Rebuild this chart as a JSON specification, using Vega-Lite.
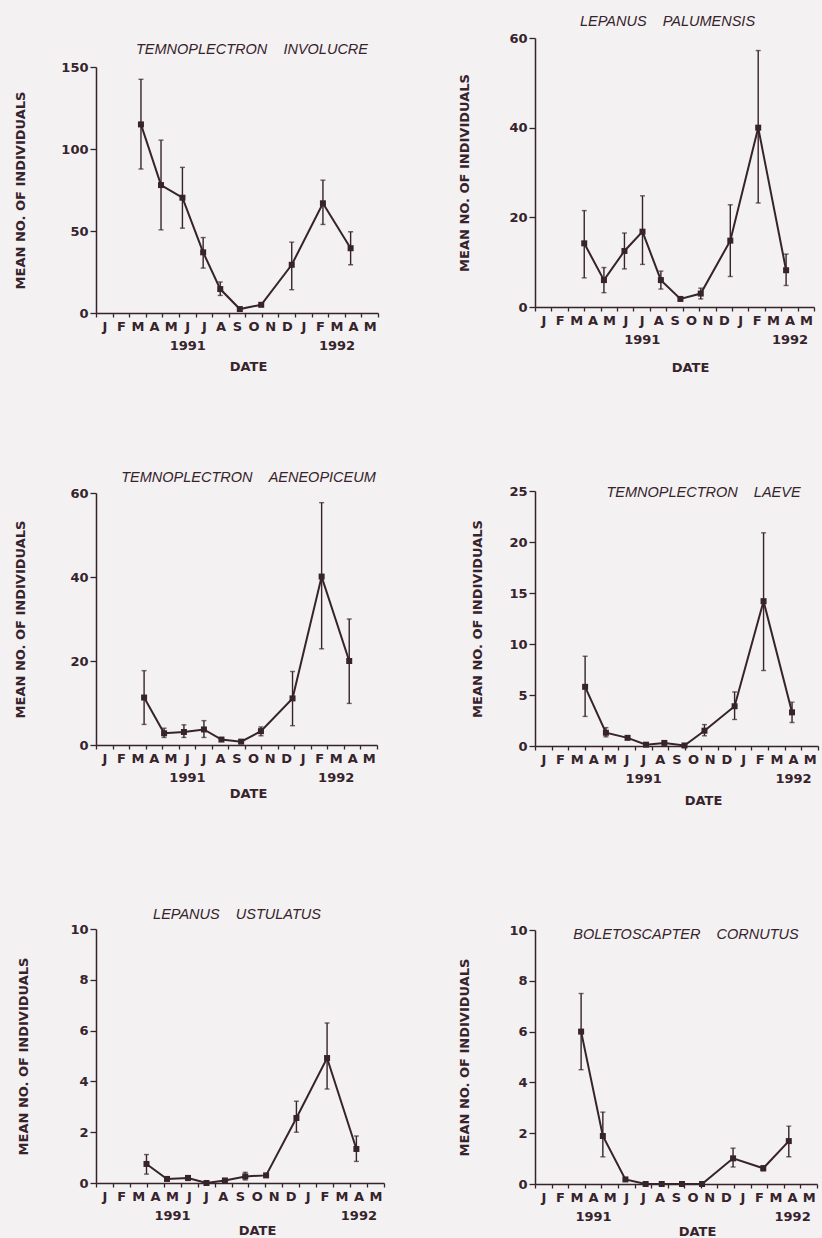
{
 "$schema": "https://vega.github.io/schema/vega-lite/v6.json",
 "background": "#f3f1f2",
 "padding": {"left": 14, "top": 14, "right": 0, "bottom": 0},
 "data": {"values": [
  {"sp":1,"m":2.71,"mean":115,"lo":87.8,"hi":142.5},
  {"sp":1,"m":3.92,"mean":78,"lo":50.7,"hi":105.4},
  {"sp":1,"m":5.21,"mean":70.3,"lo":51.7,"hi":88.8},
  {"sp":1,"m":6.46,"mean":37,"lo":27.4,"hi":46},
  {"sp":1,"m":7.49,"mean":14.6,"lo":10.7,"hi":18.9},
  {"sp":1,"m":8.67,"mean":2.4,"lo":null,"hi":null},
  {"sp":1,"m":9.96,"mean":5,"lo":null,"hi":null},
  {"sp":1,"m":11.8,"mean":29.4,"lo":14.2,"hi":43.2},
  {"sp":1,"m":13.68,"mean":66.9,"lo":54,"hi":81},
  {"sp":1,"m":15.35,"mean":39.5,"lo":29.4,"hi":49.5},
  {"sp":2,"m":3.0,"mean":14.2,"lo":6.5,"hi":21.5},
  {"sp":2,"m":4.2,"mean":6,"lo":3.2,"hi":8.8},
  {"sp":2,"m":5.45,"mean":12.5,"lo":8.5,"hi":16.5},
  {"sp":2,"m":6.55,"mean":16.8,"lo":9.5,"hi":24.8},
  {"sp":2,"m":7.67,"mean":6,"lo":4,"hi":8},
  {"sp":2,"m":8.86,"mean":1.8,"lo":null,"hi":null},
  {"sp":2,"m":10.1,"mean":3,"lo":1.8,"hi":4.2},
  {"sp":2,"m":11.9,"mean":14.8,"lo":6.8,"hi":22.8},
  {"sp":2,"m":13.6,"mean":40,"lo":23.2,"hi":57.2},
  {"sp":2,"m":15.3,"mean":8.2,"lo":4.8,"hi":11.8},
  {"sp":3,"m":2.91,"mean":11.3,"lo":4.9,"hi":17.7},
  {"sp":3,"m":4.12,"mean":2.8,"lo":1.8,"hi":4.0},
  {"sp":3,"m":5.32,"mean":3.1,"lo":1.8,"hi":4.8},
  {"sp":3,"m":6.53,"mean":3.7,"lo":1.8,"hi":5.8},
  {"sp":3,"m":7.59,"mean":1.3,"lo":null,"hi":null},
  {"sp":3,"m":8.78,"mean":0.8,"lo":null,"hi":null},
  {"sp":3,"m":9.98,"mean":3.3,"lo":2.2,"hi":4.3},
  {"sp":3,"m":11.89,"mean":11.1,"lo":4.6,"hi":17.5},
  {"sp":3,"m":13.65,"mean":40.1,"lo":22.9,"hi":57.7},
  {"sp":3,"m":15.32,"mean":20,"lo":9.9,"hi":30},
  {"sp":4,"m":3.01,"mean":5.8,"lo":2.9,"hi":8.8},
  {"sp":4,"m":4.26,"mean":1.3,"lo":0.9,"hi":1.8},
  {"sp":4,"m":5.56,"mean":0.8,"lo":null,"hi":null},
  {"sp":4,"m":6.67,"mean":0.13,"lo":null,"hi":null},
  {"sp":4,"m":7.77,"mean":0.3,"lo":null,"hi":null},
  {"sp":4,"m":8.98,"mean":0.05,"lo":null,"hi":null},
  {"sp":4,"m":10.18,"mean":1.5,"lo":1.0,"hi":2.1},
  {"sp":4,"m":11.99,"mean":3.9,"lo":2.6,"hi":5.3},
  {"sp":4,"m":13.73,"mean":14.2,"lo":7.4,"hi":20.9},
  {"sp":4,"m":15.44,"mean":3.3,"lo":2.3,"hi":4.3},
  {"sp":5,"m":2.98,"mean":0.75,"lo":0.35,"hi":1.12},
  {"sp":5,"m":4.19,"mean":0.16,"lo":0.1,"hi":0.22},
  {"sp":5,"m":5.43,"mean":0.2,"lo":0.1,"hi":0.28},
  {"sp":5,"m":6.52,"mean":0.0,"lo":null,"hi":null},
  {"sp":5,"m":7.61,"mean":0.1,"lo":0.05,"hi":0.15},
  {"sp":5,"m":8.81,"mean":0.26,"lo":0.12,"hi":0.42},
  {"sp":5,"m":10.04,"mean":0.3,"lo":null,"hi":null},
  {"sp":5,"m":11.83,"mean":2.56,"lo":2.0,"hi":3.22},
  {"sp":5,"m":13.64,"mean":4.92,"lo":3.7,"hi":6.3},
  {"sp":5,"m":15.37,"mean":1.34,"lo":0.85,"hi":1.85},
  {"sp":6,"m":2.78,"mean":6.0,"lo":4.5,"hi":7.5},
  {"sp":6,"m":4.09,"mean":1.89,"lo":1.07,"hi":2.83},
  {"sp":6,"m":5.45,"mean":0.18,"lo":null,"hi":null},
  {"sp":6,"m":6.67,"mean":0,"lo":null,"hi":null},
  {"sp":6,"m":7.64,"mean":0,"lo":null,"hi":null},
  {"sp":6,"m":8.86,"mean":0,"lo":null,"hi":null},
  {"sp":6,"m":10.07,"mean":0,"lo":null,"hi":null},
  {"sp":6,"m":11.94,"mean":1.01,"lo":0.67,"hi":1.41},
  {"sp":6,"m":13.76,"mean":0.62,"lo":0.52,"hi":0.72},
  {"sp":6,"m":15.3,"mean":1.69,"lo":1.07,"hi":2.28}
 ]},
 "spacing": 65,
 "hconcat": [
  {"spacing": 107, "vconcat": [
   {"spacing": 97, "vconcat": [
    {"spacing": 0, "vconcat": [
     {"width": 10, "height": 4, "data": {"values": []}, "mark": "text", "encoding": {"text": {"value": ""}}},
     {"width": 282, "height": 246,
      "title": {"text": "TEMNOPLECTRON\u00a0\u00a0\u00a0\u00a0INVOLUCRE", "offset": 3.5, "dx": 15},
      "transform": [{"filter": "datum.sp == 1"}],
      "encoding": {"x": {"field": "m", "type": "quantitative", "title": "DATE", "scale": {"domain": [0,17], "nice": false, "zero": false},
        "axis": {"values": [0,1,2,3,4,5,6,7,8,9,10,11,12,13,14,15,16,17], "titlePadding": 8, "titleX": 152,
          "labelExpr": "datum.value == 5 ? ['J','1991'] : datum.value == 14 ? ['M','1992'] : ['J','F','M','A','M','J','J','A','S','O','N','D','J','F','M','A','M',''][datum.value]"}}},
      "layer": [
       {"transform": [{"filter": "isValid(datum.lo)"}], "mark": {"type": "rule"},
        "encoding": {"y": {"field": "lo", "type": "quantitative", "title": "MEAN NO. OF INDIVIDUALS", "scale": {"domain": [0,150], "nice": false}, "axis": {"values": [0,50,100,150], "titlePadding": 33}}, "y2": {"field": "hi"}}},
       {"transform": [{"filter": "isValid(datum.lo)"}, {"fold": ["lo","hi"], "as": ["k","v"]}], "mark": {"type": "tick", "orient": "horizontal"},
        "encoding": {"y": {"field": "v", "type": "quantitative", "title": "MEAN NO. OF INDIVIDUALS", "scale": {"domain": [0,150], "nice": false}, "axis": {"values": [0,50,100,150], "titlePadding": 33}}}},
       {"mark": {"type": "line"},
        "encoding": {"y": {"field": "mean", "type": "quantitative", "title": "MEAN NO. OF INDIVIDUALS", "scale": {"domain": [0,150], "nice": false}, "axis": {"values": [0,50,100,150], "titlePadding": 33}}}},
       {"mark": {"type": "square"},
        "encoding": {"y": {"field": "mean", "type": "quantitative", "title": "MEAN NO. OF INDIVIDUALS", "scale": {"domain": [0,150], "nice": false}, "axis": {"values": [0,50,100,150], "titlePadding": 33}}}}
      ]}
    ]},
    {"width": 281, "height": 252,
     "title": {"text": "TEMNOPLECTRON\u00a0\u00a0\u00a0\u00a0AENEOPICEUM", "offset": 1.5, "dx": 12},
     "transform": [{"filter": "datum.sp == 3"}],
     "encoding": {"x": {"field": "m", "type": "quantitative", "title": "DATE", "scale": {"domain": [0,17], "nice": false, "zero": false},
       "axis": {"values": [0,1,2,3,4,5,6,7,8,9,10,11,12,13,14,15,16,17], "titlePadding": 3, "titleX": 152,
         "labelExpr": "datum.value == 5 ? ['J','1991'] : datum.value == 14 ? ['M','1992'] : ['J','F','M','A','M','J','J','A','S','O','N','D','J','F','M','A','M',''][datum.value]"}}},
     "layer": [
      {"transform": [{"filter": "isValid(datum.lo)"}], "mark": {"type": "rule"},
       "encoding": {"y": {"field": "lo", "type": "quantitative", "title": "MEAN NO. OF INDIVIDUALS", "scale": {"domain": [0,60], "nice": false}, "axis": {"values": [0,20,40,60], "titlePadding": 42}}, "y2": {"field": "hi"}}},
      {"transform": [{"filter": "isValid(datum.lo)"}, {"fold": ["lo","hi"], "as": ["k","v"]}], "mark": {"type": "tick", "orient": "horizontal"},
       "encoding": {"y": {"field": "v", "type": "quantitative", "title": "MEAN NO. OF INDIVIDUALS", "scale": {"domain": [0,60], "nice": false}, "axis": {"values": [0,20,40,60], "titlePadding": 42}}}},
      {"mark": {"type": "line"},
       "encoding": {"y": {"field": "mean", "type": "quantitative", "title": "MEAN NO. OF INDIVIDUALS", "scale": {"domain": [0,60], "nice": false}, "axis": {"values": [0,20,40,60], "titlePadding": 42}}}},
      {"mark": {"type": "square"},
       "encoding": {"y": {"field": "mean", "type": "quantitative", "title": "MEAN NO. OF INDIVIDUALS", "scale": {"domain": [0,60], "nice": false}, "axis": {"values": [0,20,40,60], "titlePadding": 42}}}}
     ]}
   ]},
   {"width": 288, "height": 254,
    "title": {"text": "LEPANUS\u00a0\u00a0\u00a0\u00a0USTULATUS", "offset": 0.5, "dx": -3},
    "transform": [{"filter": "datum.sp == 5"}],
    "encoding": {"x": {"field": "m", "type": "quantitative", "title": "DATE", "scale": {"domain": [0,17], "nice": false, "zero": false},
      "axis": {"values": [0,1,2,3,4,5,6,7,8,9,10,11,12,13,14,15,16,17], "titlePadding": 2, "titleX": 161,
        "labelExpr": "datum.value == 4 ? ['M','1991'] : datum.value == 15 ? ['A','1992'] : ['J','F','M','A','M','J','J','A','S','O','N','D','J','F','M','A','M',''][datum.value]"}}},
    "layer": [
     {"transform": [{"filter": "isValid(datum.lo)"}], "mark": {"type": "rule"},
      "encoding": {"y": {"field": "lo", "type": "quantitative", "title": "MEAN NO. OF INDIVIDUALS", "scale": {"domain": [0,10], "nice": false}, "axis": {"values": [0,2,4,6,8,10], "titlePadding": 39}}, "y2": {"field": "hi"}}},
     {"transform": [{"filter": "isValid(datum.lo)"}, {"fold": ["lo","hi"], "as": ["k","v"]}], "mark": {"type": "tick", "orient": "horizontal"},
      "encoding": {"y": {"field": "v", "type": "quantitative", "title": "MEAN NO. OF INDIVIDUALS", "scale": {"domain": [0,10], "nice": false}, "axis": {"values": [0,2,4,6,8,10], "titlePadding": 39}}}},
     {"mark": {"type": "line"},
      "encoding": {"y": {"field": "mean", "type": "quantitative", "title": "MEAN NO. OF INDIVIDUALS", "scale": {"domain": [0,10], "nice": false}, "axis": {"values": [0,2,4,6,8,10], "titlePadding": 39}}}},
     {"mark": {"type": "square"},
      "encoding": {"y": {"field": "mean", "type": "quantitative", "title": "MEAN NO. OF INDIVIDUALS", "scale": {"domain": [0,10], "nice": false}, "axis": {"values": [0,2,4,6,8,10], "titlePadding": 39}}}}
    ]}
  ]},
  {"spacing": 117, "vconcat": [
   {"spacing": 111, "vconcat": [
    {"width": 279, "height": 269,
     "title": {"text": "LEPANUS\u00a0\u00a0\u00a0\u00a0PALUMENSIS", "offset": 2.5, "dx": -7},
     "transform": [{"filter": "datum.sp == 2"}],
     "encoding": {"x": {"field": "m", "type": "quantitative", "title": "DATE", "scale": {"domain": [0,17], "nice": false, "zero": false},
       "axis": {"values": [0,1,2,3,4,5,6,7,8,9,10,11,12,13,14,15,16,17], "titlePadding": 15, "titleX": 155,
         "labelExpr": "datum.value == 6 ? ['J','1991'] : datum.value == 15 ? ['A','1992'] : ['J','F','M','A','M','J','J','A','S','O','N','D','J','F','M','A','M',''][datum.value]"}}},
     "layer": [
      {"transform": [{"filter": "isValid(datum.lo)"}], "mark": {"type": "rule"},
       "encoding": {"y": {"field": "lo", "type": "quantitative", "title": "MEAN NO. OF INDIVIDUALS", "scale": {"domain": [0,60], "nice": false}, "axis": {"values": [0,20,40,60], "titlePadding": 37}}, "y2": {"field": "hi"}}},
      {"transform": [{"filter": "isValid(datum.lo)"}, {"fold": ["lo","hi"], "as": ["k","v"]}], "mark": {"type": "tick", "orient": "horizontal"},
       "encoding": {"y": {"field": "v", "type": "quantitative", "title": "MEAN NO. OF INDIVIDUALS", "scale": {"domain": [0,60], "nice": false}, "axis": {"values": [0,20,40,60], "titlePadding": 37}}}},
      {"mark": {"type": "line"},
       "encoding": {"y": {"field": "mean", "type": "quantitative", "title": "MEAN NO. OF INDIVIDUALS", "scale": {"domain": [0,60], "nice": false}, "axis": {"values": [0,20,40,60], "titlePadding": 37}}}},
      {"mark": {"type": "square"},
       "encoding": {"y": {"field": "mean", "type": "quantitative", "title": "MEAN NO. OF INDIVIDUALS", "scale": {"domain": [0,60], "nice": false}, "axis": {"values": [0,20,40,60], "titlePadding": 37}}}}
     ]},
    {"width": 283, "height": 255,
     "title": {"text": "TEMNOPLECTRON\u00a0\u00a0\u00a0\u00a0LAEVE", "offset": -15.5, "dx": 27},
     "transform": [{"filter": "datum.sp == 4"}],
     "encoding": {"x": {"field": "m", "type": "quantitative", "title": "DATE", "scale": {"domain": [0,17], "nice": false, "zero": false},
       "axis": {"values": [0,1,2,3,4,5,6,7,8,9,10,11,12,13,14,15,16,17], "titlePadding": 9, "titleX": 168,
         "labelExpr": "datum.value == 6 ? ['J','1991'] : datum.value == 15 ? ['A','1992'] : ['J','F','M','A','M','J','J','A','S','O','N','D','J','F','M','A','M',''][datum.value]"}}},
     "layer": [
      {"transform": [{"filter": "isValid(datum.lo)"}], "mark": {"type": "rule"},
       "encoding": {"y": {"field": "lo", "type": "quantitative", "title": "MEAN NO. OF INDIVIDUALS", "scale": {"domain": [0,25], "nice": false}, "axis": {"values": [0,5,10,15,20,25], "titlePadding": 24}}, "y2": {"field": "hi"}}},
      {"transform": [{"filter": "isValid(datum.lo)"}, {"fold": ["lo","hi"], "as": ["k","v"]}], "mark": {"type": "tick", "orient": "horizontal"},
       "encoding": {"y": {"field": "v", "type": "quantitative", "title": "MEAN NO. OF INDIVIDUALS", "scale": {"domain": [0,25], "nice": false}, "axis": {"values": [0,5,10,15,20,25], "titlePadding": 24}}}},
      {"mark": {"type": "line"},
       "encoding": {"y": {"field": "mean", "type": "quantitative", "title": "MEAN NO. OF INDIVIDUALS", "scale": {"domain": [0,25], "nice": false}, "axis": {"values": [0,5,10,15,20,25], "titlePadding": 24}}}},
      {"mark": {"type": "square"},
       "encoding": {"y": {"field": "mean", "type": "quantitative", "title": "MEAN NO. OF INDIVIDUALS", "scale": {"domain": [0,25], "nice": false}, "axis": {"values": [0,5,10,15,20,25], "titlePadding": 24}}}}
     ]}
   ]},
   {"width": 282, "height": 254,
    "title": {"text": "BOLETOSCAPTER\u00a0\u00a0\u00a0\u00a0CORNUTUS", "offset": -18.5, "dx": 10},
    "transform": [{"filter": "datum.sp == 6"}],
    "encoding": {"x": {"field": "m", "type": "quantitative", "title": "DATE", "scale": {"domain": [0,17], "nice": false, "zero": false},
      "axis": {"values": [0,1,2,3,4,5,6,7,8,9,10,11,12,13,14,15,16,17], "titlePadding": 2, "titleX": 162,
        "labelExpr": "datum.value == 3 ? ['A','1991'] : datum.value == 15 ? ['A','1992'] : ['J','F','M','A','M','J','J','A','S','O','N','D','J','F','M','A','M',''][datum.value]"}}},
    "layer": [
     {"transform": [{"filter": "isValid(datum.lo)"}], "mark": {"type": "rule"},
      "encoding": {"y": {"field": "lo", "type": "quantitative", "title": "MEAN NO. OF INDIVIDUALS", "scale": {"domain": [0,10], "nice": false}, "axis": {"values": [0,2,4,6,8,10], "titlePadding": 37}}, "y2": {"field": "hi"}}},
     {"transform": [{"filter": "isValid(datum.lo)"}, {"fold": ["lo","hi"], "as": ["k","v"]}], "mark": {"type": "tick", "orient": "horizontal"},
      "encoding": {"y": {"field": "v", "type": "quantitative", "title": "MEAN NO. OF INDIVIDUALS", "scale": {"domain": [0,10], "nice": false}, "axis": {"values": [0,2,4,6,8,10], "titlePadding": 37}}}},
     {"mark": {"type": "line"},
      "encoding": {"y": {"field": "mean", "type": "quantitative", "title": "MEAN NO. OF INDIVIDUALS", "scale": {"domain": [0,10], "nice": false}, "axis": {"values": [0,2,4,6,8,10], "titlePadding": 37}}}},
     {"mark": {"type": "square"},
      "encoding": {"y": {"field": "mean", "type": "quantitative", "title": "MEAN NO. OF INDIVIDUALS", "scale": {"domain": [0,10], "nice": false}, "axis": {"values": [0,2,4,6,8,10], "titlePadding": 37}}}}
    ]}
  ]}
 ],
 "config": {
  "view": {"stroke": null},
  "axis": {"domainColor": "#36232b", "domainWidth": 1.5, "tickColor": "#36232b", "tickWidth": 1.3, "labelColor": "#36232b", "labelFont": "DejaVu Sans", "labelFontWeight": "bold", "labelFontSize": 13, "titleColor": "#36232b", "titleFont": "DejaVu Sans", "titleFontWeight": "bold", "titleFontSize": 13, "grid": false, "labelLineHeight": 19},
  "axisX": {"tickSize": 4, "labelPadding": 3, "labelOffset": 8.3, "labelFlush": false, "labelOverlap": false, "labelBound": false},
  "axisY": {"tickSize": 6, "labelPadding": 2, "labelOverlap": false, "labelFlush": false},
  "title": {"font": "Liberation Sans", "fontStyle": "italic", "fontSize": 14.5, "fontWeight": "normal", "color": "#36232b", "frame": "group", "baseline": "middle", "anchor": "middle"},
  "line": {"color": "#36232b", "strokeWidth": 2},
  "rule": {"color": "#36232b", "strokeWidth": 1.4},
  "tick": {"color": "#36232b", "thickness": 1.4, "bandSize": 7},
  "square": {"color": "#36232b", "size": 36, "filled": true, "opacity": 1}
 }
}
